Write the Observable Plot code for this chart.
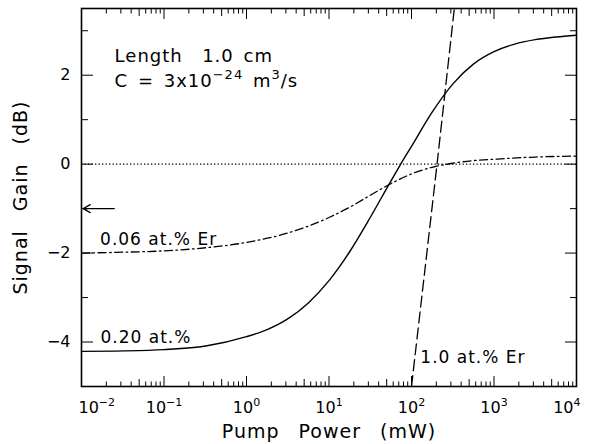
<!DOCTYPE html>
<html><head><meta charset="utf-8">
<script src="https://cdn.jsdelivr.net/npm/d3@7"></script>
<script src="https://cdn.jsdelivr.net/npm/@observablehq/plot@0.6"></script>
<style>
html,body{margin:0;padding:0;background:#fff;}
svg text{white-space:pre;}
g[aria-label="x-axis label"] text, g[aria-label="y-axis label"] text{font-size:19px;letter-spacing:1px;word-spacing:12px;}
g[aria-label="text"] text{letter-spacing:1px;}
</style>
</head><body><div id="chart"></div>
<script>
// ---- data ----
const solidPower = [0.01, 0.032, 0.1, 0.32, 1, 1.78, 3.16, 5.62, 10, 17.8, 31.6, 56.2, 74, 100, 178, 316, 562, 1000, 1778, 3162, 5623, 10000];
const solidGain  = [-4.21, -4.20, -4.17, -4.09, -3.88, -3.72, -3.48, -3.12, -2.62, -1.97, -1.20, -0.38, 0.0, 0.40, 1.17, 1.80, 2.25, 2.53, 2.70, 2.80, 2.86, 2.90];
const dashDotPower = [0.01, 0.032, 0.1, 0.32, 1, 3.16, 10, 17.8, 31.6, 56.2, 100, 178, 316, 562, 1000, 3162, 10000];
const dashDotGain  = [-2.0, -1.98, -1.95, -1.88, -1.76, -1.55, -1.2, -0.97, -0.70, -0.44, -0.22, -0.07, 0.02, 0.08, 0.11, 0.16, 0.18];
const dashedPower = [100, 204, 335];
const dashedGain  = [-5.0, 0.0, 3.6];

const xMajorTicks = [0.01, 0.1, 1, 10, 100, 1000, 10000];
const xMinorFactors = [2, 3, 4, 6, 7, 8, 9];
const xMidFactor = [5];
const yMajorTicks = [-4, -2, 0, 2];
const yMinorTicks = [-3, -1, 1, 3];

const headTexts = ["Length  1.0 cm", "C = 3x10^{-24} m^{3}/s"];
const headPower = [0.0252, 0.0252];
const headGain  = [2.30, 1.73];
const curveTexts = ["0.06 at.% Er", "0.20 at.%", "1.0 at.% Er"];
const curvePower = [0.0168, 0.0170, 128];
const curveGain  = [-1.82, -4.02, -4.47];

const arrowFrom = [0.025];
const arrowTo = [0.0105];
const arrowGain = [-1];

// ---- tables ----
const solid = solidPower.map((p, i) => ({p, g: solidGain[i]}));
const dashDot = dashDotPower.map((p, i) => ({p, g: dashDotGain[i]}));
const dashed = dashedPower.map((p, i) => ({p, g: dashedGain[i]}));
const heads = headTexts.map((t, i) => ({t, p: headPower[i], g: headGain[i]}));
const curveLabels = curveTexts.map((t, i) => ({t, p: curvePower[i], g: curveGain[i]}));
const arrows = arrowFrom.map((a, i) => ({x1: a, x2: arrowTo[i], y: arrowGain[i]}));
const decades = xMajorTicks.slice(0, -1);
const xMinor = decades.flatMap(d => xMinorFactors.map(f => d * f));
const xMid = decades.flatMap(d => xMidFactor.map(f => d * f));

const fmtPow = d => `10^{${Math.round(Math.log10(d))}}`;

const chart = Plot.plot({
  width: 592, height: 444,
  marginLeft: 81, marginRight: 16, marginTop: 8, marginBottom: 58,
  style: {fontFamily: "DejaVu Sans", fontSize: "16px", color: "black", background: "white"},
  x: {type: "log", domain: [0.01, 10000]},
  y: {domain: [-5, 3.5]},
  marks: [
    Plot.ruleY([0], {strokeDasharray: "1.3,2.2", strokeWidth: 1.3}),
    Plot.line(dashDot, {x: "p", y: "g", curve: "monotone-x", strokeWidth: 1.3, strokeDasharray: "8,3.5,1.6,3.5"}),
    Plot.line(solid, {x: "p", y: "g", curve: "monotone-x", strokeWidth: 1.4}),
    Plot.line(dashed, {x: "p", y: "g", curve: "linear", strokeWidth: 1.3, strokeDasharray: "11,5", clip: true}),
    Plot.arrow(arrows, {x1: "x1", x2: "x2", y1: "y", y2: "y", strokeWidth: 1.2, headLength: 10, headAngle: 60}),
    Plot.text(heads, {x: "p", y: "g", text: "t", textAnchor: "start", lineAnchor: "bottom", fontSize: 18}),
    Plot.text(curveLabels, {x: "p", y: "g", text: "t", textAnchor: "start", lineAnchor: "bottom", fontSize: 17}),
    Plot.frame({strokeWidth: 1.6}),
    // ticks (inward) on all four sides
    Plot.axisX(xMajorTicks, {anchor: "bottom", tickSize: -10, fill: "none", label: null}),
    Plot.axisX(xMid, {anchor: "bottom", tickSize: -7, fill: "none", label: null}),
    Plot.axisX(xMinor, {anchor: "bottom", tickSize: -4.5, fill: "none", label: null}),
    Plot.axisX(xMajorTicks, {anchor: "top", tickSize: -10, fill: "none", label: null}),
    Plot.axisX(xMid, {anchor: "top", tickSize: -7, fill: "none", label: null}),
    Plot.axisX(xMinor, {anchor: "top", tickSize: -4.5, fill: "none", label: null}),
    Plot.axisY(yMajorTicks, {anchor: "left", tickSize: -12, fill: "none", label: null}),
    Plot.axisY(yMinorTicks, {anchor: "left", tickSize: -7, fill: "none", label: null}),
    Plot.axisY(yMajorTicks, {anchor: "right", tickSize: -12, fill: "none", label: null}),
    Plot.axisY(yMinorTicks, {anchor: "right", tickSize: -7, fill: "none", label: null}),
    // labels
    Plot.axisX(xMajorTicks, {anchor: "bottom", tickSize: 0, tickPadding: 15, tickFormat: fmtPow, label: "Pump Power (mW)", labelAnchor: "center", labelOffset: 51, labelArrow: false}),
    Plot.axisY(yMajorTicks, {anchor: "left", tickSize: 0, tickPadding: 11, label: "Signal Gain (dB)", labelAnchor: "center", labelOffset: 68, labelArrow: false})
  ]
});

document.getElementById("chart").appendChild(chart);

// header annotation block gets slightly wider word spacing, as in the reference
const textGroups = chart.querySelectorAll('g[aria-label="text"]');
if (textGroups.length) textGroups[0].style.wordSpacing = "3px";

// superscripts: turn ^{...} into raised tspans
const NS = "http://www.w3.org/2000/svg";
chart.querySelectorAll("text").forEach(t => {
  const s = t.textContent;
  if (!s.includes("^{")) return;
  const fs = parseFloat(getComputedStyle(t).fontSize) || 16;
  const sup = Math.round(fs * 0.7), raise = Math.round(fs * 0.45);
  const parts = s.split(/\^\{([^}]*)\}/);
  t.textContent = "";
  let pending = 0;
  parts.forEach((p, i) => {
    if (!p) return;
    const ts = document.createElementNS(NS, "tspan");
    if (i % 2) {
      ts.textContent = p.replace("-", "\u2212");
      ts.setAttribute("font-size", sup);
      ts.setAttribute("dy", -raise);
      pending = raise;
    } else {
      ts.textContent = p;
      if (pending) { ts.setAttribute("dy", pending); pending = 0; }
    }
    t.appendChild(ts);
  });
});

// keep the end tick labels inside the frame width, as in the reference
const xLabels = chart.querySelectorAll('g[aria-label="x-axis tick label"] text');
if (xLabels.length) {
  const first = xLabels[0], last = xLabels[xLabels.length - 1];
  first.setAttribute("text-anchor", "start"); first.setAttribute("dx", -3);
  last.setAttribute("text-anchor", "end"); last.setAttribute("dx", 4);
}
</script>
</body></html>
